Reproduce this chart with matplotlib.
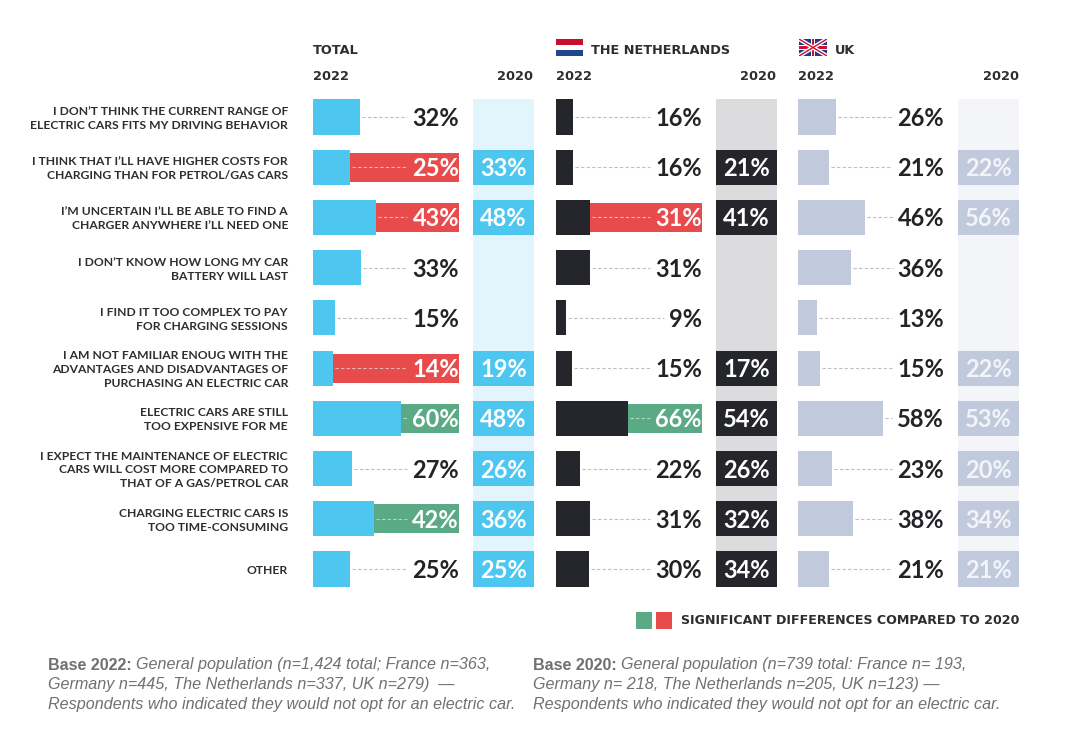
import numpy as np
import matplotlib.pyplot as plt

W, H = 1067, 740
plt.rcParams['font.family'] = ['Lato', 'DejaVu Sans']

reasons = [
    "I DON’T THINK THE CURRENT RANGE OF\nELECTRIC CARS FITS MY DRIVING BEHAVIOR",
    "I THINK THAT I’LL HAVE HIGHER COSTS FOR\nCHARGING THAN FOR PETROL/GAS CARS",
    "I’M UNCERTAIN I’LL BE ABLE TO FIND A\nCHARGER ANYWHERE I’LL NEED ONE",
    "I DON’T KNOW HOW LONG MY CAR\nBATTERY WILL LAST",
    "I FIND IT TOO COMPLEX TO PAY\nFOR CHARGING SESSIONS",
    "I AM NOT FAMILIAR ENOUG WITH THE\nADVANTAGES AND DISADVANTAGES OF\nPURCHASING AN ELECTRIC CAR",
    "ELECTRIC CARS ARE STILL\nTOO EXPENSIVE FOR ME",
    "I EXPECT THE MAINTENANCE OF ELECTRIC\nCARS WILL COST MORE COMPARED TO\nTHAT OF A GAS/PETROL CAR",
    "CHARGING ELECTRIC CARS IS\nTOO TIME-CONSUMING",
    "OTHER",
]

nan = np.nan
total_2022 = [32, 25, 43, 33, 15, 14, 60, 27, 42, 25]
total_2020 = [nan, 33, 48, nan, nan, 19, 48, 26, 36, 25]
total_sig = ['', 'r', 'r', '', '', 'r', 'g', '', 'g', '']

nl_2022 = [16, 16, 31, 31, 9, 15, 66, 22, 31, 30]
nl_2020 = [nan, 21, 41, nan, nan, 17, 54, 26, 32, 34]
nl_sig = ['', '', 'r', '', '', '', 'g', '', '', '']

uk_2022 = [26, 21, 46, 36, 13, 15, 58, 23, 38, 21]
uk_2020 = [nan, 22, 56, nan, nan, 22, 53, 20, 34, 21]
uk_sig = [''] * 10

RED = '#E84B4B'
GREEN = '#5AAA86'
DARK = '#24262B'
sig_colors = {'r': RED, 'g': GREEN}

fig = plt.figure(figsize=(W / 100, H / 100), dpi=100)
renderer = fig.canvas.get_renderer()

top_px, bot_px = 91.9, 594.1


def panel(x0, scale, v22, v20, sig, c_bar, c_bg, c_col, c_txt20):
    ax = fig.add_axes([x0 / W, 1 - bot_px / H, 221 / W, (bot_px - top_px) / H])
    ax.set_xlim(0, 221 / scale)
    ax.set_ylim(9.5, -0.5)
    ax.axis('off')
    rows = np.arange(len(v22))
    v22 = np.array(v22, float)
    v20 = np.array(v20, float)
    lab_r = 146 / scale
    c0, c1 = 160 / scale, 221 / scale
    ax.axvspan(c0, c1, 0.015, 0.985, color=c_bg, lw=0, zorder=0)
    has20 = ~np.isnan(v20)
    ax.barh(rows[has20], c1 - c0, left=c0, height=0.7, color=c_col, lw=0, zorder=1)
    for r in rows[has20]:
        ax.text((c0 + c1) / 2, r + 0.03, f"{v20[r]:.0f}%", ha='center', va='center',
                fontsize=17, fontweight='bold', color=c_txt20, zorder=3)
    for r, s in enumerate(sig):
        if s:
            ax.barh(r, lab_r - v22[r], left=v22[r], height=0.58,
                    color=sig_colors[s], lw=0, zorder=1)
    ax.barh(rows, v22, height=0.7, color=c_bar, lw=0, zorder=2)
    inv = ax.transData.inverted()
    for r in rows:
        col = 'white' if sig[r] else '#222326'
        t = ax.text(lab_r, r + 0.03, f"{v22[r]:.0f}%", ha='right', va='center',
                    fontsize=17, fontweight='bold', color=col, zorder=3)
        bb = t.get_window_extent(renderer)
        xl = inv.transform((bb.x0, 0))[0]
        lc = '#E9B9B9' if sig[r] == 'r' else ('#B5D8C6' if sig[r] == 'g' else '#BFBFBF')
        ax.plot([v22[r] + 2 / scale, xl - 5 / scale], [r, r], ls=(0, (3, 2)),
                lw=0.8, color=lc, zorder=2)
    return ax


ax_t = panel(313, 1.46, total_2022, total_2020, total_sig,
             '#4DC7EF', '#E2F5FC', '#4DC7EF', 'white')
ax_n = panel(556, 1.09, nl_2022, nl_2020, nl_sig,
             DARK, '#DCDCDF', DARK, 'white')
ax_u = panel(798, 1.46, uk_2022, uk_2020, uk_sig,
             '#C1CADC', '#F3F5F9', '#C1CADC', '#F2F4F8')

# row labels
for r, txt in enumerate(reasons):
    y = 118.5 + r * 50.2
    fig.text(288 / W, 1 - y / H, txt, ha='right', va='center', multialignment='right',
             fontsize=8.7, fontweight='bold', color='#2E2E2E', linespacing=1.32)

# headers
hdr = dict(fontsize=9.3, fontweight='bold', color='#2E2E2E', va='center',
           family=['DejaVu Sans'])
fig.text(313 / W, 1 - 50 / H, "TOTAL", **hdr)
fig.text(591 / W, 1 - 50 / H, "THE NETHERLANDS", **hdr)
fig.text(835 / W, 1 - 50 / H, "UK", **hdr)
for xl, xr in [(313, 533), (556, 776), (798, 1019)]:
    fig.text(xl / W, 1 - 77 / H, "2022", ha='left', **hdr)
    fig.text(xr / W, 1 - 77 / H, "2020", ha='right', **hdr)

# flags
fa = fig.add_axes([556 / W, 1 - 56 / H, 27 / W, 17 / H])
fa.set_xlim(0, 3)
fa.set_ylim(0, 3)
fa.axis('off')
for i, c in enumerate(['#21468B', 'white', '#C8102E']):
    fa.axhspan(i, i + 1, color=c, lw=0)

fu = fig.add_axes([799 / W, 1 - 56 / H, 28 / W, 17 / H])
fu.set_xlim(0, 60)
fu.set_ylim(0, 30)
fu.axis('off')
fu.axhspan(0, 30, color='#1F3A8A', lw=0)
fu.plot([0, 60], [0, 30], color='white', lw=3, solid_capstyle='butt')
fu.plot([0, 60], [30, 0], color='white', lw=3, solid_capstyle='butt')
fu.plot([0, 60], [0, 30], color='#C8102E', lw=1, solid_capstyle='butt')
fu.plot([0, 60], [30, 0], color='#C8102E', lw=1, solid_capstyle='butt')
fu.axvspan(25, 35, color='white', lw=0)
fu.axhspan(10, 20, color='white', lw=0)
fu.axvspan(27, 33, color='#C8102E', lw=0)
fu.axhspan(12, 18, color='#C8102E', lw=0)

# legend
fig.patches.append(plt.Rectangle((636 / W, 1 - 629 / H), 16 / W, 17 / H,
                                 transform=fig.transFigure, color=GREEN, lw=0))
fig.patches.append(plt.Rectangle((656 / W, 1 - 629 / H), 16 / W, 17 / H,
                                 transform=fig.transFigure, color=RED, lw=0))
fig.text(1019 / W, 1 - 621 / H, "SIGNIFICANT DIFFERENCES COMPARED TO 2020",
         fontsize=9.1, fontweight='bold', color='#2E2E2E', va='center', ha='right',
         family=['DejaVu Sans'])

# footnotes
foot = dict(fontsize=11.6, color='#707070', va='center',
            family=['Liberation Sans Narrow', 'Liberation Sans'])
notes = [
    (48, "Base 2022:", ["General population (n=1,424 total; France n=363,",
                        "Germany n=445, The Netherlands n=337, UK n=279)  —",
                        "Respondents who indicated they would not opt for an electric car."]),
    (533, "Base 2020:", ["General population (n=739 total: France n= 193,",
                         "Germany n= 218, The Netherlands n=205, UK n=123) —",
                         "Respondents who indicated they would not opt for an electric car."]),
]
finv = fig.transFigure.inverted()
for x, head, lines in notes:
    t = fig.text(x / W, 1 - 665 / H, head, fontweight='bold', **foot)
    bb = t.get_window_extent(renderer)
    xe = finv.transform((bb.x1, 0))[0]
    fig.text(xe + 4 / W, 1 - 665 / H, lines[0], style='italic', **foot)
    for i, ln in enumerate(lines[1:]):
        fig.text(x / W, 1 - (685 + 20 * i) / H, ln, style='italic', **foot)

fig.savefig("out.png", dpi=100, facecolor='white')
